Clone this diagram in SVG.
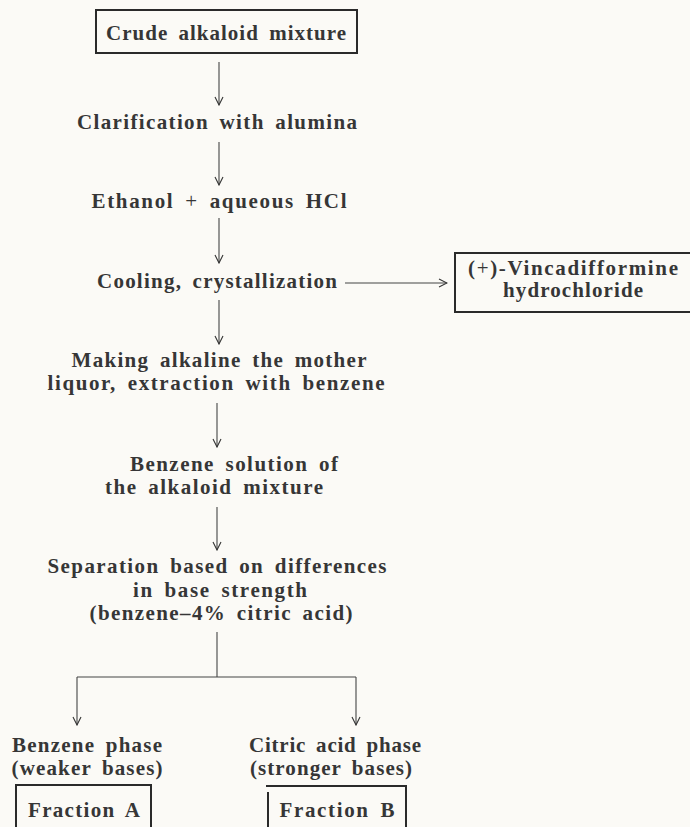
<svg xmlns="http://www.w3.org/2000/svg" width="690" height="827" viewBox="0 0 690 827">
  <defs>
    <marker id="head" viewBox="0 0 10 10" refX="9" refY="5" markerWidth="10" markerHeight="10" markerUnits="userSpaceOnUse" orient="auto">
      <path d="M1,1 L9,5 L1,9" fill="none" stroke="#333" stroke-width="1.1"/>
    </marker>
    <style>
      text { font-family: "Liberation Serif", "DejaVu Serif", serif; font-size: 21px; font-weight: bold; fill: #363636; text-anchor: middle; word-spacing: 4px; }
      .thin { font-weight: normal; }
      .box { fill: none; stroke: #2a2a2a; stroke-width: 2; }
      .edge { fill: none; stroke: #444; stroke-width: 1.1; }
      .arrow { marker-end: url(#head); }
    </style>
  </defs>
  <rect width="690" height="827" fill="#fbfaf6"/>

  <g id="connectors">
    <line class="edge arrow" x1="219" y1="62" x2="219" y2="105"/>
    <line class="edge arrow" x1="219" y1="142" x2="219" y2="185"/>
    <line class="edge arrow" x1="219" y1="218" x2="219" y2="263"/>
    <line class="edge arrow" x1="345" y1="283" x2="447" y2="283"/>
    <line class="edge arrow" x1="219" y1="300" x2="219" y2="344"/>
    <line class="edge arrow" x1="217" y1="403" x2="217" y2="447"/>
    <line class="edge arrow" x1="217" y1="507" x2="217" y2="550"/>
    <line class="edge" x1="217" y1="632" x2="217" y2="677"/>
    <line class="edge" x1="77" y1="677" x2="356" y2="677"/>
    <line class="edge arrow" x1="77" y1="677" x2="77" y2="725"/>
    <line class="edge arrow" x1="356" y1="677" x2="356" y2="725"/>
  </g>

  <g id="crude-mixture">
    <rect class="box" x="96" y="10" width="261" height="43"/>
    <text x="226" y="40" textLength="240" lengthAdjust="spacing">Crude alkaloid mixture</text>
  </g>

  <g id="clarification">
    <text x="217" y="129" textLength="280" lengthAdjust="spacing">Clarification with alumina</text>
  </g>

  <g id="ethanol-hcl">
    <text x="219" y="208" textLength="255" lengthAdjust="spacing">Ethanol <tspan class="thin">+</tspan> aqueous HCl</text>
  </g>

  <g id="cooling">
    <text x="217" y="288" textLength="240" lengthAdjust="spacing">Cooling, crystallization</text>
  </g>

  <g id="vincadifformine">
    <path class="box" d="M692,253 H455 V312 H692"/>
    <text x="573" y="275" textLength="210" lengthAdjust="spacing">(<tspan class="thin">+</tspan>)-Vincadifformine</text>
    <text x="573" y="297" textLength="140" lengthAdjust="spacing">hydrochloride</text>
  </g>

  <g id="alkaline-extraction">
    <text x="219" y="367" textLength="295" lengthAdjust="spacing">Making alkaline the mother</text>
    <text x="216" y="390" textLength="337" lengthAdjust="spacing">liquor, extraction with benzene</text>
  </g>

  <g id="benzene-solution">
    <text x="234" y="471" textLength="208" lengthAdjust="spacing">Benzene solution of</text>
    <text x="214" y="494" textLength="218" lengthAdjust="spacing">the alkaloid mixture</text>
  </g>

  <g id="separation">
    <text x="217" y="573" textLength="339" lengthAdjust="spacing">Separation based on differences</text>
    <text x="220" y="597" textLength="174" lengthAdjust="spacing">in base strength</text>
    <text x="221" y="620" textLength="263" lengthAdjust="spacing">(benzene–4% citric acid)</text>
  </g>

  <g id="benzene-phase">
    <text x="87" y="752" textLength="150" lengthAdjust="spacing">Benzene phase</text>
    <text x="87" y="775" textLength="151" lengthAdjust="spacing">(weaker bases)</text>
  </g>

  <g id="citric-phase">
    <text x="335" y="752" textLength="172" lengthAdjust="spacing">Citric acid phase</text>
    <text x="331" y="775" textLength="162" lengthAdjust="spacing">(stronger bases)</text>
  </g>

  <g id="fraction-a">
    <path class="box" d="M16,830 V785 H151 V830"/>
    <text x="84" y="817" textLength="112" lengthAdjust="spacing">Fraction A</text>
  </g>

  <g id="fraction-b">
    <path class="box" d="M266,786 H406 V830"/>
    <line class="box" x1="268" y1="792" x2="268" y2="830"/>
    <text x="337" y="817" textLength="115" lengthAdjust="spacing">Fraction B</text>
  </g>
</svg>
